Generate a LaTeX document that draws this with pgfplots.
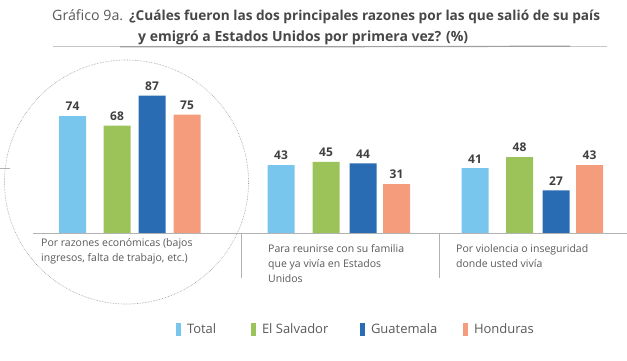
\documentclass[border=0pt]{standalone}
\usepackage{pgfplots}
\pgfplotsset{compat=1.18}
\usepackage{fontspec}
\setmainfont{Open Sans}
\definecolor{cTotal}{HTML}{78C6EE}
\definecolor{cES}{HTML}{9CC35A}
\definecolor{cGU}{HTML}{2A6CB4}
\definecolor{cHO}{HTML}{F59C7C}
\definecolor{txt}{HTML}{595959}
\definecolor{ttl}{HTML}{474747}
\definecolor{val}{HTML}{404040}
\begin{document}
\begin{tikzpicture}
\begin{axis}[
  scale only axis, width=627pt, height=360pt,
  xmin=0, xmax=627, ymin=-80.4, ymax=147.5,
  axis lines=none, clip=false,
  /pgf/number format/assume math mode=true,
  nodes near coords,
  every node near coord/.append style={font=\bfseries\fontsize{12}{12}\selectfont, text=val, inner sep=0pt, yshift=5pt},
  legend style={draw=none, fill=none, at={(axis cs:176,-61.1)}, anchor=west, legend columns=-1,
    font=\fontsize{13}{14}\selectfont, text=txt, inner sep=0pt, outer sep=0pt,
    nodes={inner sep=0pt, outer sep=0pt},
    /tikz/every odd column/.append style={column sep=6pt},
    /tikz/every even column/.append style={column sep=0pt}},
  legend image code/.code={\fill[#1] (0pt,-6.5pt) rectangle (5pt,6.5pt);},
]
\addplot[ybar, bar shift=0pt, bar width=27, fill=cTotal, draw=none] coordinates {(72.5,74) (281,43) (475,41)};
\addplot[ybar, bar shift=0pt, bar width=27, fill=cES, draw=none] coordinates {(117,68) (326,45) (519.5,48)};
\addplot[ybar, bar shift=0pt, bar width=27, fill=cGU, draw=none] coordinates {(152,87) (363,44) (556,27)};
\addplot[ybar, bar shift=0pt, bar width=27, fill=cHO, draw=none] coordinates {(187,75) (396.5,31) (589.5,43)};
\legend{\makebox[64pt][l]{Total}, \makebox[98pt][l]{El Salvador}, \makebox[92pt][l]{Guatemala}, \makebox[60pt][l]{Honduras}}
\end{axis}
\begin{scope}[shift={(0pt,360pt)}, x=1pt, y=-1pt]
  % title
  \node[anchor=base west, inner sep=0pt, text=txt] at (52,20.5)
    {\resizebox{71pt}{!}{\fontsize{14}{14}\selectfont Gráfico 9a.}};
  \node[anchor=base west, inner sep=0pt, text=ttl] at (129,20.5)
    {\resizebox{471pt}{!}{\bfseries\fontsize{13}{14}\selectfont ¿Cuáles fueron las dos principales razones por las que salió de su país}};
  \node[anchor=base west, inner sep=0pt, text=ttl] at (138,41)
    {\resizebox{330pt}{!}{\bfseries\fontsize{13}{14}\selectfont y emigró a Estados Unidos por primera vez? (\%)}};
  \draw[gray!45, line width=0.8pt] (53,46.5) -- (607,46.5);
  \draw[gray!75, line width=1.2pt] (120,46.7) .. controls (250,47) and (450,46.5) .. (570,46.2);
  % baseline and dividers
  \draw[gray!60, line width=0.8pt] (33,233) -- (627,233);
  \draw[gray!60, line width=0.8pt] (241,233) -- (241,278);
  \draw[gray!60, line width=0.8pt] (439,233) -- (439,278);
  \draw[gray!60, line width=0.8pt] (0,168) -- (10,168);
  % circle
  \draw[gray!80, densely dotted, line width=0.6pt] (126.5,182) circle (122pt);
  % category labels
  \node[anchor=north west, inner sep=0pt, text=txt, align=left, font=\fontsize{10.5}{15}\selectfont] at (41,238)
    {Por razones económicas (bajos\\ingresos, falta de trabajo, etc.)};
  \node[anchor=north west, inner sep=0pt, text=txt, align=left, font=\fontsize{10.5}{15}\selectfont] at (268,244)
    {Para reunirse con su familia\\que ya vivía en Estados\\Unidos};
  \node[anchor=north west, inner sep=0pt, text=txt, align=left, font=\fontsize{10.5}{15}\selectfont] at (456,244)
    {Por violencia o inseguridad\\donde usted vivía};
\end{scope}
\pgfresetboundingbox
\path[use as bounding box] (0,0) rectangle (627pt,360pt);
\end{tikzpicture}
\end{document}
